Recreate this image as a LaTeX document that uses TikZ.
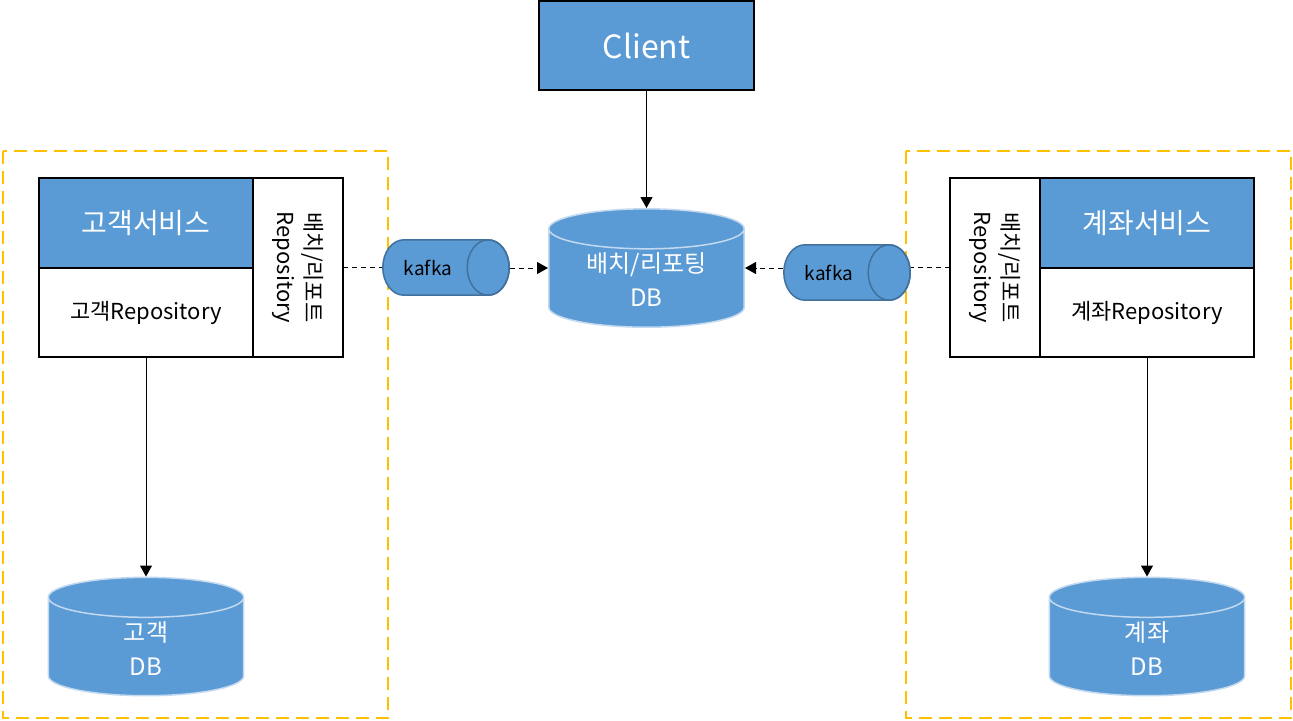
\documentclass[tikz,border=0pt]{standalone}
\usepackage{fontspec}
\setmainfont{Noto Sans CJK KR}
\usetikzlibrary{positioning, arrows.meta}

\definecolor{svcblue}{HTML}{5B9BD5}
\definecolor{kafkaedge}{HTML}{41719C}
\definecolor{dbedge}{HTML}{C2D9EF}
\definecolor{grouporange}{HTML}{FFC000}

\tikzset{
  bluebox/.style={draw=black, line width=1pt, fill=svcblue, text=white, inner sep=0pt, outer sep=0pt},
  whitebox/.style={draw=black, line width=1pt, fill=white, inner sep=0pt, outer sep=0pt},
  dbcyl/.style={minimum width=98.5pt, minimum height=60pt, inner sep=0pt, outer sep=0pt,
    path picture={
      \draw[dbedge, fill=svcblue, line width=0.75pt]
        ([shift={(0.4pt,-10.4pt)}]path picture bounding box.north west)
        -- ([shift={(0.4pt,10.4pt)}]path picture bounding box.south west)
        arc[start angle=180, end angle=360, x radius=48.85pt, y radius=10pt]
        -- ([shift={(-0.4pt,-10.4pt)}]path picture bounding box.north east)
        arc[start angle=0, end angle=180, x radius=48.85pt, y radius=10pt]
        -- cycle
        ([shift={(0.4pt,-10.4pt)}]path picture bounding box.north west)
        arc[start angle=180, end angle=360, x radius=48.85pt, y radius=10pt];
    }},
  dblabel/.style={align=center, text=white, font=\fontsize{12}{17}\selectfont},
  kafkacyl/.style={minimum width=64pt, minimum height=28.5pt, inner sep=0pt, outer sep=0pt,
    path picture={
      \draw[kafkaedge, fill=svcblue, line width=0.75pt]
        ([shift={(10.9pt,-0.4pt)}]path picture bounding box.north west)
        arc[start angle=90, end angle=270, x radius=10.5pt, y radius=13.85pt]
        -- ([shift={(-10.9pt,0.4pt)}]path picture bounding box.south east)
        arc[start angle=-90, end angle=90, x radius=10.5pt, y radius=13.85pt]
        -- cycle;
      \draw[kafkaedge, line width=0.75pt]
        ([xshift=-10.9pt]path picture bounding box.east) ellipse[x radius=10.5pt, y radius=13.85pt];
    }},
  kafkalabel/.style={font=\fontsize{9.5}{11}\selectfont, xshift=-9pt},
  groupbox/.style={draw=grouporange, line width=1pt, dash pattern=on 6.5pt off 3.5pt},
  flow/.style={-{Triangle[width=6pt,length=5.5pt]}, line width=0.5pt},
  msg/.style={line width=0.5pt, dash pattern=on 2.5pt off 2pt},
}

\begin{document}
\begin{tikzpicture}[x=0.5pt, y=-0.5pt]
  \useasboundingbox (0,0) rectangle (1293,720);

  % Service groups
  \draw[groupbox] (3,151) rectangle (388,718);
  \draw[groupbox] (906,151) rectangle (1291,718);

  % Client and batch DB
  \node[bluebox, minimum width=107.5pt, minimum height=44.5pt, font=\fontsize{16}{18}\selectfont] (client) at (646.5,45.5) {Client};
  \node[dbcyl, label={[dblabel, yshift=-6pt]center:배치/리포팅\\DB}] (batchdb) at (646.5,268) {};

  % 고객 service
  \node[bluebox, minimum width=107pt, minimum height=45pt, font=\fontsize{14}{16}\selectfont] (custsvc) at (146,223) {고객서비스};
  \node[whitebox, minimum width=107pt, minimum height=44.5pt, font=\fontsize{11}{13}\selectfont] (custrepo) [below=0pt of custsvc] {고객Repository};
  \node[whitebox, rotate=-90, minimum width=89.5pt, minimum height=45pt, align=center, font=\fontsize{11}{14}\selectfont] (custbatch) at (298,267.5) {배치/리포트\\Repository};
  \node[dbcyl, label={[dblabel, yshift=-6pt]center:고객\\DB}] (custdb) at (146,636.5) {};

  % 계좌 service
  \node[bluebox, minimum width=107pt, minimum height=45pt, font=\fontsize{14}{16}\selectfont] (acctsvc) at (1147,223) {계좌서비스};
  \node[whitebox, minimum width=107pt, minimum height=44.5pt, font=\fontsize{11}{13}\selectfont] (acctrepo) [below=0pt of acctsvc] {계좌Repository};
  \node[whitebox, rotate=-90, minimum width=89.5pt, minimum height=45pt, align=center, font=\fontsize{11}{14}\selectfont] (acctbatch) at (995,267.5) {배치/리포트\\Repository};
  \node[dbcyl, label={[dblabel, yshift=-6pt]center:계좌\\DB}] (acctdb) at (1147,636.5) {};

  % Kafka
  \node[kafkacyl, label={[kafkalabel]center:kafka}] (kafka1) at (446,267.5) {};
  \node[kafkacyl, label={[kafkalabel]center:kafka}] (kafka2) at (847,272.5) {};

  % Connectors
  \draw[flow] (client) -- (batchdb);
  \draw[flow] (custrepo) -- (custdb);
  \draw[flow] (acctrepo) -- (acctdb);
  \draw[msg] (custbatch.north) -- (custbatch.north -| kafka1.west);
  \draw[msg, flow] (kafka1.east |- batchdb.west) -- (batchdb.west);
  \draw[msg] (acctbatch.south) -- (acctbatch.south -| kafka2.east);
  \draw[msg, flow] (kafka2.west |- batchdb.east) -- (batchdb.east);
\end{tikzpicture}
\end{document}
